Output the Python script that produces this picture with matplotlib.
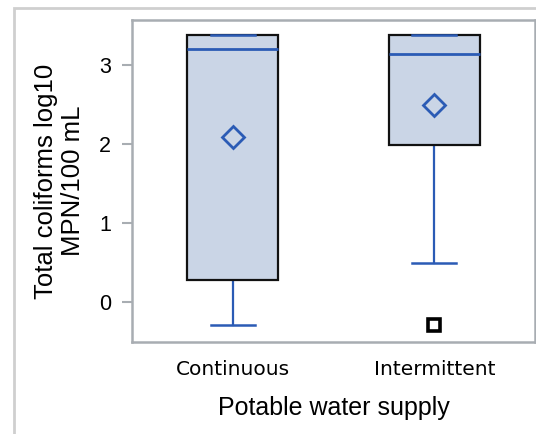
import matplotlib
matplotlib.use("Agg")
import matplotlib.pyplot as plt
from matplotlib.patches import Rectangle

categories = ["Continuous", "Intermittent"]
q1 = [0.28, 1.98]
median = [3.20, 3.14]
q3 = [3.38, 3.38]
whisker_low = [-0.30, 0.49]
whisker_high = [3.38, 3.38]
means = [2.09, 2.49]
outliers = [[], [-0.30]]
yticks = [0, 1, 2, 3]

BOX_FILL = "#CAD5E6"
BLUE = "#2B5BB5"
SPINE = "#A8ADB2"

fig = plt.figure(figsize=(5.36, 4.34), dpi=100)
ax = fig.add_axes([132/536, (434-342)/434, (535-132)/536, (342-20)/434])

# outer frame
fig.add_artist(Rectangle((14/536, -0.2), 2.0, 1.2 - 8/434, transform=fig.transFigure,
                         fill=False, edgecolor="#CFCFCF", linewidth=2))

stats = []
for i in range(len(categories)):
    stats.append(dict(q1=q1[i], med=median[i], q3=q3[i], whislo=whisker_low[i],
                      whishi=whisker_high[i], fliers=outliers[i], label=categories[i]))

pos = list(range(1, len(categories) + 1))
ax.bxp(stats, positions=pos, widths=0.45, patch_artist=True, showfliers=True,
       boxprops=dict(facecolor=BOX_FILL, edgecolor="#111111", linewidth=1.6, zorder=2),
       medianprops=dict(color=BLUE, linewidth=2, zorder=3),
       whiskerprops=dict(color=BLUE, linewidth=1.6, zorder=1),
       capprops=dict(color=BLUE, linewidth=1.8, zorder=3),
       capwidths=0.22,
       flierprops=dict(marker="s", markerfacecolor="white", markeredgecolor="black",
                       markersize=8, markeredgewidth=2.6))
ax.plot(pos, means, linestyle="none", marker="D", markersize=11, markerfacecolor="none",
        markeredgecolor=BLUE, markeredgewidth=2, zorder=4)

ax.set_xlim(0.5, 2.5)
ax.set_ylim(-0.51, 3.57)
ax.set_yticks(yticks)
ax.set_yticklabels([str(t) for t in yticks], fontfamily="Liberation Sans", fontsize=15.5)
ax.set_xticks(pos)
ax.set_xticklabels(categories, fontfamily="DejaVu Sans", fontsize=14.5)
ax.tick_params(axis="x", length=0, pad=13)
ax.tick_params(axis="y", length=7, width=1.5, color=SPINE, pad=8)
for s in ax.spines.values():
    s.set_color(SPINE)
    s.set_linewidth(1.8)

ax.set_xlabel("Potable water supply", fontfamily="Liberation Sans", fontsize=18, labelpad=12)
ax.set_ylabel("Total coliforms log10\nMPN/100 mL", fontfamily="Liberation Sans",
              fontsize=18.5, linespacing=1.15, labelpad=10)

fig.savefig("out.png", dpi=100)
